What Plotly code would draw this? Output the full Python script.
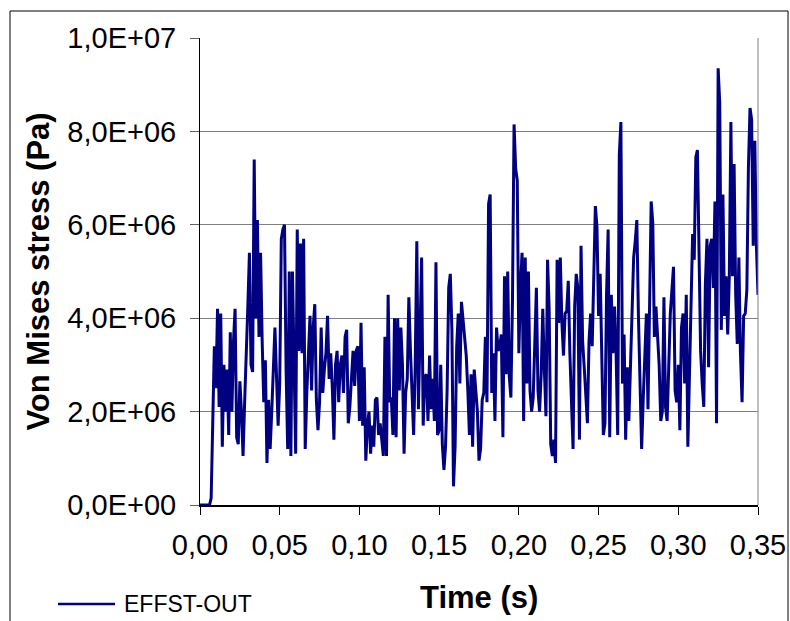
import plotly.graph_objects as go

# Von Mises stress (in MPa) sampled every 1 ms from t = 0 to 0.35 s
time_step_s = 0.001
stress_mpa = [
    0, 0, 0, 0, 0, 0, 0, 0.15,
    2.2, 3.4, 2.5, 4.2, 2.1, 4.1, 1.25, 3.0, 2.0, 2.9, 1.5, 3.7, 2.0, 3.5, 4.2, 1.45, 1.3, 2.65, 2.0, 1.05,
    2.2, 3.5, 4.25, 5.4, 3.0, 2.85, 7.4, 4.0, 6.1, 3.6, 5.4, 3.5, 2.2, 3.1, 0.9, 2.25, 1.2, 2.0, 3.1, 3.8,
    2.75, 1.7, 2.6, 5.7, 5.9, 6.0, 2.9, 1.2, 5.0, 1.05, 5.0, 2.7, 1.1, 5.9, 3.3, 5.6, 3.25, 5.7, 1.2, 2.4,
    3.2, 4.05, 2.45, 3.8, 4.3, 2.25, 1.6, 2.2, 3.8, 2.4, 2.9, 3.25, 4.05, 2.7, 3.25, 2.5, 1.4, 3.0, 3.3, 2.2,
    3.0, 3.2, 2.4, 3.6, 3.75, 1.75, 2.1, 2.75, 3.3, 2.55, 3.3, 3.4, 1.8, 3.9, 1.7, 2.95, 0.95, 1.7, 2.0, 1.1,
    1.7, 1.25, 2.25, 2.3, 1.5, 1.75, 1.45, 1.05, 3.6, 1.05, 4.5, 2.2, 2.3, 1.5, 4.0, 1.45, 4.0, 2.45, 3.8, 3.0,
    1.1, 2.4, 2.7, 4.45, 3.3, 2.2, 1.5, 3.0, 5.65, 2.05, 3.7, 5.3, 1.7, 2.75, 2.8, 1.8, 3.2, 2.05, 2.7, 1.8, 5.2,
    1.5, 1.6, 3.0, 1.3, 0.75, 1.25, 2.45, 4.65, 4.95, 3.75, 0.4, 1.25, 3.4, 4.1, 2.6, 4.35, 3.9, 3.45, 3.2, 2.45,
    1.5, 2.8, 1.25, 2.9, 2.45, 2.0, 0.95,
    1.2, 2.25, 2.4, 3.6, 2.2, 6.45, 6.65, 2.4, 3.25, 1.8, 3.8, 3.3, 3.4, 3.65, 1.45, 4.9, 2.8, 5.0, 2.75, 2.3,
    4.4, 8.15, 7.2, 6.95, 3.25, 4.65, 5.4, 1.8, 5.3, 2.6, 5.0, 2.45, 2.0, 2.3, 3.6, 4.65, 2.45, 2.0, 2.8, 4.2,
    2.9, 1.9, 5.25, 4.2, 1.3, 1.05, 1.4, 0.9, 5.25, 3.9, 5.3, 3.9, 3.2, 4.1, 4.15, 4.8, 3.25, 2.05, 1.2, 4.25,
    4.95, 4.65, 1.4, 5.55, 3.5, 2.95, 2.25, 1.75, 3.5, 4.1, 3.4, 5.0, 6.4, 5.95, 4.05, 4.95, 3.25, 1.5, 1.75, 4.5,
    5.9, 1.45, 4.5, 3.25, 4.25, 3.25, 1.5, 7.5,
    8.2, 2.6, 3.65, 1.4, 2.95, 1.8, 2.95, 4.4, 5.3, 5.65, 6.1, 4.05, 2.8, 1.2, 2.25, 3.25, 4.1, 2.05, 4.1, 6.5,
    6.05, 3.6, 4.25, 3.65, 3.0, 1.8, 2.0, 4.45, 2.1, 1.8, 3.1, 4.1, 4.6, 5.1, 2.45, 2.2, 3.0, 1.6, 3.8, 4.1,
    2.6, 4.5, 1.25, 2.8, 4.65, 5.8, 5.25, 7.45, 7.6, 5.8, 3.3, 2.6, 2.1, 4.75, 5.7, 2.95, 5.55, 5.7, 4.65, 6.5,
    1.75, 9.35, 8.6, 3.75, 6.65, 4.05, 4.9, 3.65, 4.9, 8.2, 4.9, 7.3, 4.5, 3.45, 5.3, 3.25, 2.2, 4.05, 4.1, 4.6,
    7.25, 8.5, 8.25, 5.55, 7.8, 5.55, 4.5,
]

x_tick_values = [0.0, 0.05, 0.10, 0.15, 0.20, 0.25, 0.30, 0.35]
y_tick_values = [0, 2e6, 4e6, 6e6, 8e6, 1e7]
y_tick_labels = ["0,0E+00", "2,0E+06", "4,0E+06", "6,0E+06", "8,0E+06", "1,0E+07"]

series_name = "EFFST-OUT"
x_title = "Time (s)"
y_title = "Von Mises stress (Pa)"

time_s = [round(i * time_step_s, 3) for i in range(len(stress_mpa))]
stress_pa = [v * 1e6 for v in stress_mpa]

LINE_COLOR = "#000080"
FONT = "Liberation Sans, Arial, sans-serif"

fig = go.Figure()
fig.add_trace(go.Scatter(
    x=time_s, y=stress_pa, mode="lines", name=series_name,
    line=dict(color=LINE_COLOR, width=3), showlegend=False,
))

fig.update_layout(
    width=790, height=621, autosize=False,
    margin=dict(l=200, r=32, t=38, b=116, pad=0, autoexpand=False),
    paper_bgcolor="white", plot_bgcolor="white",
    separators=", ",
    font=dict(family=FONT, size=29, color="black"),
    xaxis=dict(
        range=[0, 0.35], tickvals=x_tick_values, tickformat=".2f",
        showgrid=False, zeroline=False, automargin=False,
        showline=True, linecolor="black", linewidth=2,
        ticks="outside", ticklen=8, tickwidth=1, tickcolor="black",
        ticklabelstandoff=5,
        tickfont=dict(family=FONT, size=29, color="black"),
    ),
    yaxis=dict(
        range=[0, 1e7], tickvals=y_tick_values, ticktext=y_tick_labels,
        showgrid=True, gridcolor="#808080", gridwidth=1, zeroline=False, automargin=False,
        showline=True, linecolor="black", linewidth=1,
        ticks="outside", ticklen=9, tickwidth=1, tickcolor="#606060",
        ticklabelstandoff=8,
        tickfont=dict(family=FONT, size=29, color="black"),
    ),
    shapes=[
        # outer chart border
        dict(type="rect", xref="paper", yref="paper",
             x0=-0.3405, x1=1.0538, y0=-0.30, y1=1.0578,
             line=dict(color="black", width=1), fillcolor="rgba(0,0,0,0)", layer="below"),
        # right edge of plot area
        dict(type="line", xref="paper", yref="paper", x0=1, x1=1, y0=0, y1=1,
             line=dict(color="#808080", width=1)),
        # legend key line
        dict(type="line", xref="paper", yref="paper", x0=-0.2545, x1=-0.1523, y0=-0.212, y1=-0.212,
             line=dict(color=LINE_COLOR, width=2.5)),
    ],
    annotations=[
        dict(text=f"<b>{y_title}</b>", xref="paper", yref="paper", x=-0.2903, y=0.5,
             xanchor="center", yanchor="middle", textangle=-90, showarrow=False,
             font=dict(family=FONT, size=31, color="black")),
        dict(text=f"<b>{x_title}</b>", xref="paper", yref="paper", x=0.5, y=-0.1991,
             xanchor="center", yanchor="middle", showarrow=False,
             font=dict(family=FONT, size=31, color="black")),
        dict(text=series_name, xref="paper", yref="paper", x=-0.1398, y=-0.212,
             xanchor="left", yanchor="middle", showarrow=False,
             font=dict(family=FONT, size=23, color="black")),
    ],
)

fig.write_html(
    "out.html",
    config={"displayModeBar": False},
    post_script="document.body.style.margin='0';document.body.style.overflow='hidden';",
)
